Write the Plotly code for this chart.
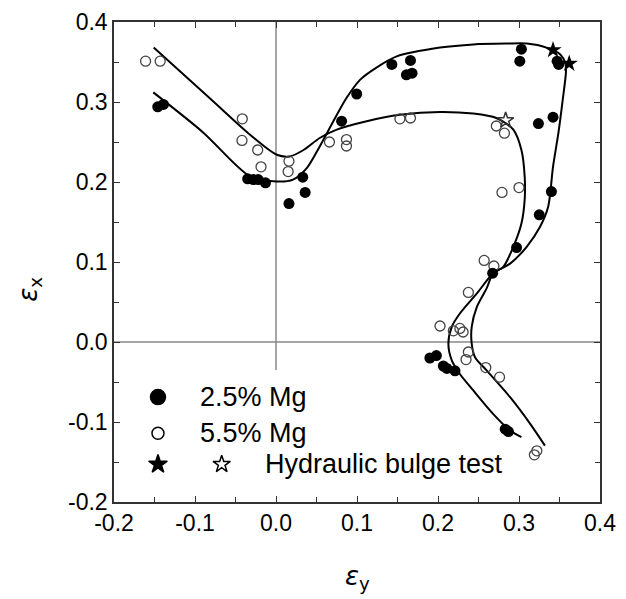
import plotly.graph_objects as go

# ---- data ----
mg25_x = [-0.146, -0.139, -0.035, -0.028, -0.022, -0.013, 0.016, 0.033, 0.036, 0.081, 0.0996,
          0.143, 0.166, 0.161, 0.168, 0.303, 0.301, 0.347, 0.349, 0.324, 0.342, 0.340, 0.325,
          0.297, 0.2675, 0.190, 0.198, 0.2066, 0.211, 0.221, 0.283, 0.287]
mg25_y = [0.294, 0.297, 0.204, 0.203, 0.203, 0.199, 0.173, 0.206, 0.187, 0.276, 0.310,
          0.347, 0.352, 0.334, 0.336, 0.366, 0.351, 0.351, 0.347, 0.273, 0.281, 0.188, 0.159,
          0.118, 0.086, -0.020, -0.017, -0.030, -0.033, -0.036, -0.109, -0.112]

mg55_x = [-0.161, -0.143, -0.0416, -0.042, -0.0226, -0.0185, 0.016, 0.015, 0.066, 0.087, 0.087,
          0.153, 0.166, 0.272, 0.282, 0.279, 0.300, 0.257, 0.269, 0.2375, 0.2025, 0.219, 0.227,
          0.231, 0.2375, 0.2346, 0.259, 0.276, 0.322, 0.319]
mg55_y = [0.351, 0.351, 0.279, 0.252, 0.240, 0.219, 0.226, 0.213, 0.250, 0.253, 0.245,
          0.279, 0.280, 0.270, 0.261, 0.187, 0.193, 0.102, 0.095, 0.062, 0.020, 0.014, 0.017,
          0.0125, -0.0125, -0.022, -0.032, -0.044, -0.136, -0.141]

bulge25_x = [0.342, 0.362]
bulge25_y = [0.365, 0.348]
bulge55_x = [0.2835]
bulge55_y = [0.277]

curve25_x = [-0.1515, -0.09, -0.032, 0.001, 0.021, 0.038, 0.054, 0.0708, 0.087, 0.104, 0.124,
             0.149, 0.2025, 0.2436, 0.285, 0.3095, 0.334, 0.351, 0.357, 0.358, 0.354, 0.3486,
             0.342, 0.336, 0.326, 0.3095, 0.289, 0.268, 0.248, 0.227, 0.217, 0.2128, 0.217,
             0.227, 0.2436, 0.268, 0.289, 0.303]
curve25_y = [0.312, 0.262, 0.207, 0.2006, 0.203, 0.2174, 0.2445, 0.276, 0.305, 0.328, 0.343,
             0.357, 0.368, 0.372, 0.373, 0.373, 0.368, 0.3595, 0.349, 0.3386, 0.303, 0.261,
             0.219, 0.169, 0.144, 0.119, 0.098, 0.0857, 0.0607, 0.0356, 0.019, -0.002, -0.023,
             -0.040, -0.0606, -0.0898, -0.1107, -0.119]

curve55_x = [-0.151, -0.08, -0.032, 0.001, 0.017, 0.034, 0.054, 0.075, 0.112, 0.153, 0.2025,
             0.2436, 0.272, 0.293, 0.303, 0.307, 0.307, 0.303, 0.293, 0.2806, 0.268, 0.260,
             0.248, 0.2416, 0.2416, 0.2457, 0.26, 0.289, 0.3136, 0.332]
curve55_y = [0.368, 0.303, 0.259, 0.234, 0.232, 0.240, 0.255, 0.2655, 0.276, 0.284, 0.2876,
             0.2855, 0.280, 0.2655, 0.240, 0.207, 0.178, 0.148, 0.119, 0.094, 0.0857, 0.067,
             0.044, 0.019, -0.002, -0.019, -0.0355, -0.069, -0.102, -0.1295]

tick_vals = [-0.2, -0.1, 0.0, 0.1, 0.2, 0.3, 0.4]
tick_text = ["-0.2", "-0.1", "0.0", "0.1", "0.2", "0.3", "0.4"]

legend_labels = ["2.5% Mg", "5.5% Mg", "Hydraulic bulge test"]

FONT = "Liberation Sans, Arial, sans-serif"

fig = go.Figure()

line_style = dict(color="black", width=2, shape="spline", smoothing=0.8)
fig.add_trace(go.Scatter(x=curve25_x, y=curve25_y, mode="lines", line=line_style, hoverinfo="skip"))
fig.add_trace(go.Scatter(x=curve55_x, y=curve55_y, mode="lines", line=line_style, hoverinfo="skip"))

fig.add_trace(go.Scatter(x=mg55_x, y=mg55_y, mode="markers",
                         marker=dict(symbol="circle-open", size=10, color="#444",
                                     line=dict(width=1.3, color="#444"))))
fig.add_trace(go.Scatter(x=mg25_x, y=mg25_y, mode="markers",
                         marker=dict(symbol="circle", size=11, color="black")))
fig.add_trace(go.Scatter(x=bulge25_x, y=bulge25_y, mode="markers",
                         marker=dict(symbol="star", size=13, color="black")))
fig.add_trace(go.Scatter(x=bulge55_x, y=bulge55_y, mode="markers",
                         marker=dict(symbol="star-open", size=12, color="#333",
                                     line=dict(width=1.5, color="#333"))))

# ---- custom legend on an overlay axis (0..1 over the plot area) ----
leg_sym_x = [0.0905, 0.0905, 0.0905, 0.2216]
leg_sym_y = [0.2185, 0.1434, 0.0786, 0.0786]
leg_syms = ["circle", "circle-open", "star", "star-open"]
leg_sizes = [15, 12, 14, 13]
for sx, sy, sym, sz in zip(leg_sym_x, leg_sym_y, leg_syms, leg_sizes):
    fig.add_trace(go.Scatter(x=[sx], y=[sy], xaxis="x2", yaxis="y2", mode="markers",
                             marker=dict(symbol=sym, size=sz, color="black",
                                         line=dict(width=1.5, color="black")),
                             hoverinfo="skip"))

leg_text_x = [0.173, 0.173, 0.3066]
leg_text_y = [0.2185, 0.1434, 0.0786]
annotations = []
for lx, ly, lab in zip(leg_text_x, leg_text_y, legend_labels):
    annotations.append(dict(x=lx, y=ly, xref="paper", yref="paper", text=lab, showarrow=False,
                            xanchor="left", yanchor="middle",
                            font=dict(family=FONT, size=27, color="black")))

annotations.append(dict(x=0.5, y=-0.157, xref="paper", yref="paper",
                        text="<i>ε</i><sub>y</sub>", showarrow=False,
                        xanchor="center", yanchor="middle",
                        font=dict(family="DejaVu Sans, sans-serif", size=26, color="black")))
annotations.append(dict(x=-0.173, y=0.444, xref="paper", yref="paper",
                        text="<i>ε</i><sub>x</sub>", showarrow=False, textangle=-90,
                        xanchor="center", yanchor="middle",
                        font=dict(family="DejaVu Sans, sans-serif", size=26, color="black")))

axis_common = dict(range=[-0.2, 0.4], tickvals=tick_vals, ticktext=tick_text,
                   ticks="inside", ticklen=6, tickwidth=1.3, tickcolor="#333",
                   minor=dict(dtick=0.05, tick0=0, ticks="inside", ticklen=5, tickwidth=1.3,
                              tickcolor="#333", showgrid=False),
                   showline=True, linecolor="#333", linewidth=1.5, mirror="ticks",
                   showgrid=False, zeroline=False, automargin=False,
                   tickfont=dict(family=FONT, size=23, color="black"))

fig.update_layout(
    width=626, height=599,
    margin=dict(l=114, r=26, t=22, b=97, autoexpand=False),
    paper_bgcolor="white", plot_bgcolor="white",
    showlegend=False,
    xaxis=dict(**axis_common),
    yaxis=dict(**axis_common),
    xaxis2=dict(overlaying="x", range=[0, 1], visible=False, automargin=False),
    yaxis2=dict(overlaying="y", range=[0, 1], visible=False, automargin=False),
    annotations=annotations,
    shapes=[
        dict(type="line", xref="x", yref="y", x0=0, x1=0, y0=-0.035, y1=0.4,
             line=dict(color="#888", width=1.5), layer="below"),
        dict(type="line", xref="x", yref="y", x0=-0.2, x1=0.4, y0=0, y1=0,
             line=dict(color="#888", width=1.5), layer="below"),
    ],
)

fig.write_html("out.html", config={"displayModeBar": False},
               post_script="document.body.style.margin='0px';")
